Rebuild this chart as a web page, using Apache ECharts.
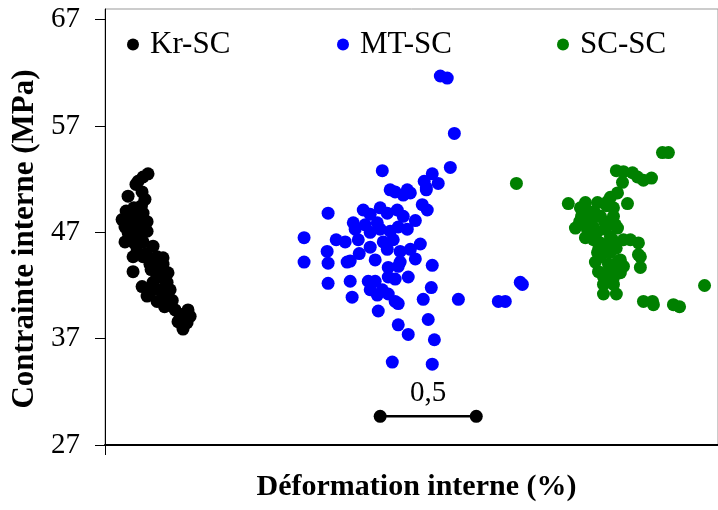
<!DOCTYPE html>
<html>
<head>
<meta charset="utf-8">
<script src="https://cdn.jsdelivr.net/npm/echarts@6/dist/echarts.min.js"></script>
<style>html,body{margin:0;padding:0;background:#fff}#c{width:718px;height:510px}</style>
</head>
<body>
<div id="c"></div>
<script>
const seriesNames = ['Kr-SC', 'MT-SC', 'SC-SC'];
const yTicks = [27, 37, 47, 57, 67];
const krSC = [[0.224,52.5],[0.198,52.2],[0.172,51.8],[0.161,51.5],[0.193,50.8],[0.120,50.4],[0.208,50.1],[0.146,48.8],[0.198,48.8],[0.089,48.2],[0.219,48.0],[0.104,47.5],[0.146,47.7],[0.182,47.4],[0.120,47.0],[0.167,46.8],[0.219,47.1],[0.104,46.1],[0.146,46.1],[0.198,46.1],[0.167,45.2],[0.250,45.7],[0.146,44.7],[0.198,44.7],[0.271,44.7],[0.302,44.6],[0.234,44.0],[0.146,43.3],[0.302,44.0],[0.328,43.2],[0.271,42.8],[0.323,42.3],[0.193,41.9],[0.234,41.3],[0.286,41.6],[0.339,41.6],[0.271,40.5],[0.323,40.7],[0.365,39.7],[0.432,39.7],[0.380,38.6],[0.427,38.5],[0.406,38.1],[0.443,39.1],[0.302,42.7],[0.250,42.3],[0.219,41.0],[0.406,37.9],[0.130,48.5],[0.175,48.4],[0.110,49.0],[0.150,49.3],[0.190,49.5],[0.125,46.6],[0.185,46.5],[0.160,45.8],[0.215,45.0],[0.240,43.5],[0.260,43.8],[0.280,43.2],[0.250,41.8],[0.300,41.2],[0.350,40.6],[0.310,40.0],[0.390,39.3],[0.420,38.9]];
const mtSC = [[1.745,61.7],[1.781,61.5],[1.818,56.3],[1.443,52.8],[1.797,53.1],[1.703,52.5],[1.661,51.8],[1.734,51.6],[1.672,51.2],[1.484,51.0],[1.510,50.8],[1.573,51.0],[1.552,50.5],[1.589,50.7],[1.161,48.8],[1.036,46.5],[1.036,44.2],[1.156,45.2],[1.161,44.1],[1.161,42.2],[1.203,46.3],[1.250,46.1],[1.276,44.3],[1.260,44.2],[1.323,45.0],[1.276,42.4],[1.286,40.9],[1.344,49.1],[1.432,49.3],[1.292,47.9],[1.302,47.3],[1.354,47.7],[1.318,46.3],[1.380,48.7],[1.417,47.9],[1.469,48.8],[1.521,49.1],[1.552,48.5],[1.380,47.0],[1.432,47.3],[1.484,47.1],[1.380,45.6],[1.406,44.4],[1.448,46.1],[1.469,45.4],[1.500,46.3],[1.526,47.5],[1.573,47.3],[1.615,48.1],[1.651,49.6],[1.677,49.1],[1.672,51.0],[1.536,45.2],[1.589,45.4],[1.615,44.5],[1.536,44.2],[1.526,43.8],[1.474,43.7],[1.474,42.8],[1.510,42.6],[1.578,42.8],[1.641,45.9],[1.703,43.9],[1.370,42.4],[1.406,42.4],[1.380,41.6],[1.417,41.1],[1.443,41.6],[1.474,41.2],[1.510,40.5],[1.526,40.3],[1.422,39.6],[1.656,40.7],[1.698,41.8],[1.839,40.7],[1.526,38.3],[1.682,38.8],[1.578,37.4],[1.714,36.9],[1.495,34.8],[1.703,34.6],[2.161,42.3],[2.172,42.1],[2.047,40.5],[2.083,40.5]];
const scSC = [[2.901,54.5],[2.932,54.5],[2.141,51.6],[2.661,52.8],[2.698,52.7],[2.745,52.6],[2.771,52.2],[2.802,51.9],[2.844,52.1],[2.693,51.7],[2.667,50.7],[2.630,50.3],[2.411,49.7],[2.474,49.3],[2.500,49.8],[2.563,49.8],[2.615,49.9],[2.719,49.7],[2.646,49.3],[2.526,48.9],[2.578,48.5],[2.646,48.5],[2.656,47.7],[2.667,47.4],[2.448,47.4],[2.490,47.9],[2.510,47.3],[2.542,47.5],[2.604,47.3],[2.630,46.6],[2.500,46.5],[2.542,46.3],[2.578,46.0],[2.641,46.3],[2.698,46.3],[2.734,46.3],[2.776,46.0],[2.563,45.1],[2.630,45.1],[2.786,44.7],[2.776,44.9],[2.552,44.2],[2.682,44.4],[2.667,44.2],[2.698,43.8],[2.786,43.7],[2.568,43.3],[2.646,43.5],[2.682,43.2],[2.594,42.8],[2.646,42.7],[2.594,42.1],[2.646,42.1],[2.594,41.2],[2.661,41.2],[3.120,42.0],[2.802,40.5],[2.849,40.5],[2.854,40.2],[2.958,40.2],[2.990,40.0],[2.520,48.2],[2.560,47.0],[2.600,48.0],[2.550,48.8],[2.480,48.5],[2.610,45.6],[2.580,44.7],[2.620,44.0],[2.600,43.0],[2.630,42.4],[2.570,45.5],[2.530,47.8],[2.660,45.5],[2.610,49.5],[2.470,48.0]];
const scaleBarX = [1.432, 1.932];
const scaleBarY = 29.7;
const scaleBarLabel = '0,5';
const xTitle = 'Déformation interne (%)';
const yTitle = 'Contrainte interne (MPa)';

const FONT = '"Liberation Serif", "Times New Roman", serif';
const colors = ['#000000', '#0000ff', '#008000'];
const legendLefts = [127, 337, 557];

const chart = echarts.init(document.getElementById('c'), null, {renderer: 'canvas'});
const option = {
  animation: false,
  backgroundColor: '#ffffff',
  grid: {left: 105, right: 0, top: 9, bottom: 65, show: true, borderColor: '#999', borderWidth: 1},
  legend: seriesNames.map((n, i) => ({
    data: [n], left: legendLefts[i], top: 29, padding: 0,
    icon: 'circle', itemWidth: 12, itemHeight: 12,
    textStyle: {fontFamily: FONT, fontSize: 31, color: '#000', padding: [0, 0, 0, 6]}
  })),
  xAxis: {
    type: 'value', min: 0, max: 3.19,
    name: xTitle, nameLocation: 'middle', nameGap: 27,
    nameTextStyle: {fontFamily: FONT, fontSize: 30, fontWeight: 'bold', color: '#000', padding: [0, 0, 0, 10]},
    axisLine: {lineStyle: {color: '#000', width: 2}},
    axisTick: {show: true, customValues: [0], length: 10, lineStyle: {color: '#000', width: 1}},
    axisLabel: {show: false},
    splitLine: {show: false}
  },
  yAxis: {
    type: 'value', min: 27, max: 68,
    name: yTitle, nameLocation: 'middle', nameGap: 63,
    nameTextStyle: {fontFamily: FONT, fontSize: 31, fontWeight: 'bold', color: '#000', padding: [0, 24, 0, 0]},
    axisLine: {show: true, lineStyle: {color: '#000', width: 1}},
    axisTick: {show: true, customValues: yTicks, length: 10, lineStyle: {color: '#000'}},
    axisLabel: {customValues: yTicks, margin: 25, fontFamily: FONT, fontSize: 29, color: '#000'},
    splitLine: {show: false}
  },
  series: [
    {name: seriesNames[0], type: 'scatter', data: krSC, symbolSize: 13, itemStyle: {color: colors[0], opacity: 1}},
    {name: seriesNames[1], type: 'scatter', data: mtSC, symbolSize: 13, itemStyle: {color: colors[1], opacity: 1}},
    {name: seriesNames[2], type: 'scatter', data: scSC, symbolSize: 13, itemStyle: {color: colors[2], opacity: 1}},
    {
      name: 'scale', type: 'line', symbol: 'circle', symbolSize: 13,
      lineStyle: {color: '#000', width: 2.5}, itemStyle: {color: '#000'},
      data: [[scaleBarX[0], scaleBarY], [scaleBarX[1], scaleBarY]]
    },
    {
      name: 'scaleLabel', type: 'scatter', symbol: 'circle', symbolSize: 1,
      itemStyle: {color: '#000', opacity: 1},
      label: {show: true, position: 'top', distance: 8, formatter: scaleBarLabel, fontFamily: FONT, fontSize: 29, color: '#000', opacity: 1},
      data: [[(scaleBarX[0] + scaleBarX[1]) / 2, scaleBarY]]
    }
  ]
};
chart.setOption(option);
</script>
</body>
</html>
